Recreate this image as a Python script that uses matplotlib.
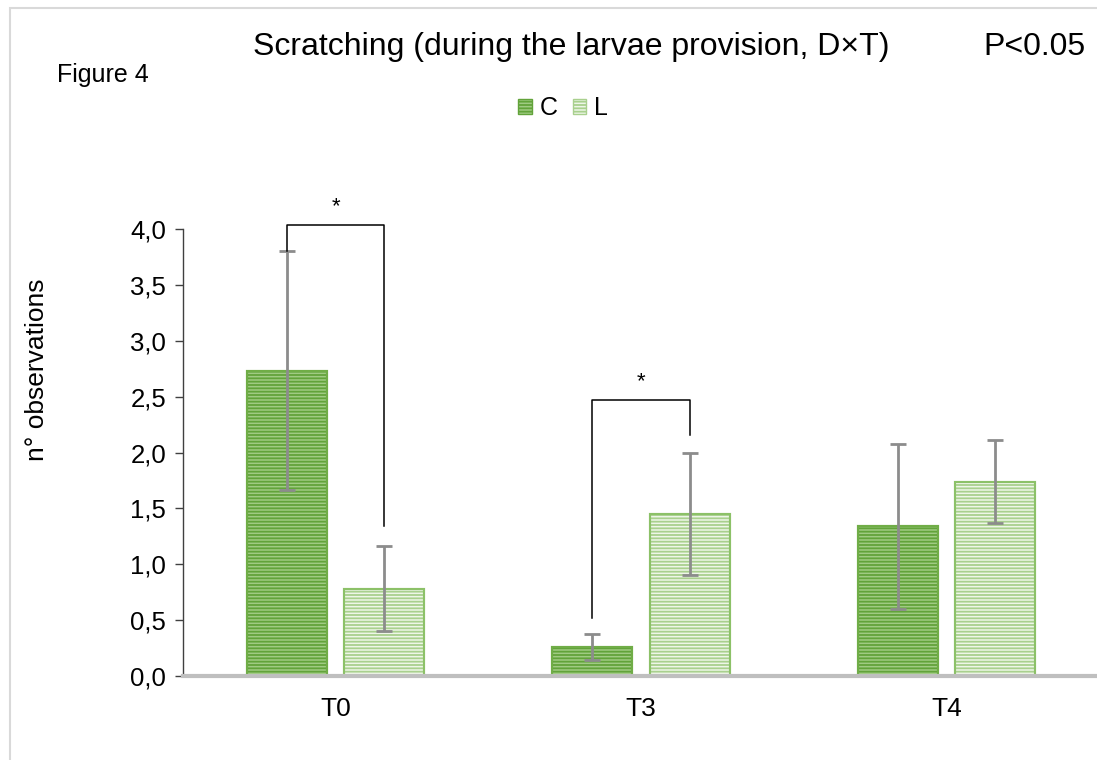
import matplotlib
matplotlib.use("Agg")
import matplotlib.pyplot as plt
from matplotlib.patches import Rectangle, Patch
import numpy as np

plt.rcParams['font.family'] = ['Liberation Sans', 'DejaVu Sans']
plt.rcParams['hatch.linewidth'] = 1.3

categories = ["T0", "T3", "T4"]
series = ["C", "L"]
c_values = [2.73, 0.26, 1.34]
c_errors = [1.07, 0.12, 0.74]
l_values = [0.78, 1.45, 1.74]
l_errors = [0.38, 0.55, 0.37]
y_ticks = [0.0, 0.5, 1.0, 1.5, 2.0, 2.5, 3.0, 3.5, 4.0]
# significance brackets: (category index, left leg bottom, right leg bottom, top)
brackets = [(0, 3.80, 1.34, 4.035), (1, 0.52, 2.16, 2.47)]

fig = plt.figure(figsize=(10.97, 7.60), dpi=100)
ax = fig.add_axes([183/1097, 84/760, 916/1097, 447/760])

x = np.arange(len(categories))
off = 0.159
w = 0.262
c_face, c_hatch = '#a0cb83', '#62a33a'
l_face, l_hatch = '#eef6e8', '#a9d08e'

ax.bar(x - off, c_values, w, facecolor=c_face, edgecolor=c_hatch, hatch='-----', linewidth=1.5, zorder=2)
ax.bar(x + off, l_values, w, facecolor=l_face, edgecolor=l_hatch, hatch='-----', linewidth=1.5, zorder=2)
# redraw edges
ax.bar(x - off, c_values, w, facecolor='none', edgecolor='#70ad47', linewidth=1.5, zorder=3)
ax.bar(x + off, l_values, w, facecolor='none', edgecolor='#8cc168', linewidth=1.5, zorder=3)

ax.errorbar(x - off, c_values, yerr=c_errors, fmt='none', ecolor='#8c8c8c', elinewidth=2, capsize=6, capthick=2, zorder=4)
ax.errorbar(x + off, l_values, yerr=l_errors, fmt='none', ecolor='#8c8c8c', elinewidth=2, capsize=6, capthick=2, zorder=4)

for ci, lb, rb, top in brackets:
    xl, xr = ci - off, ci + off
    ax.plot([xl, xl, xr, xr], [lb, top, top, rb], color='black', lw=1.1, zorder=5, clip_on=False)
    ax.text(ci, top + 0.07, '*', ha='center', va='bottom', fontsize=16)

ax.set_xlim(-0.5, 2.5)
ax.set_ylim(0, 4.0)
ax.set_yticks(y_ticks)
ax.set_yticklabels([f"{v:.1f}".replace('.', ',') for v in y_ticks], fontsize=18.5)
ax.set_xticks(x)
ax.set_xticklabels(categories, fontsize=19)
ax.tick_params(axis='x', length=0, pad=15)
ax.tick_params(axis='y', length=6, width=1, color='#404040', pad=6)
for s in ['top', 'right']:
    ax.spines[s].set_visible(False)
ax.spines['left'].set_color('#404040')
ax.spines['left'].set_linewidth(1)
ax.spines['bottom'].set_color('#bfbfbf')
ax.spines['bottom'].set_linewidth(3)
ax.spines['bottom'].set_zorder(6)

ax.set_ylabel("n° observations", fontsize=19, va='center')
ax.yaxis.set_label_coords((37 - 183) / 916, (676 - 370) / 447)

fig.text(571/1097, 1 - 47/760, "Scratching (during the larvae provision, D×T)", fontsize=23, ha='center', va='center')
fig.text(1034/1097, 1 - 47/760, "P<0.05", fontsize=23, ha='center', va='center')
fig.text(103/1097, 1 - 75/760, "Figure 4", fontsize=18, ha='center', va='center')

handles = [Patch(facecolor=c_face, edgecolor=c_hatch, hatch='-----'),
           Patch(facecolor=l_face, edgecolor=l_hatch, hatch='-----')]
fig.legend(handles, series, loc='center', bbox_to_anchor=(563/1097, 1 - 108/760), ncol=2,
           frameon=False, fontsize=18, handlelength=0.55, handleheight=0.55, handletextpad=0.3, columnspacing=0.6)

fig.patches.append(Rectangle((10/1097, -0.1), 1.2, 1 - 8/760 + 0.1, transform=fig.transFigure,
                             facecolor='none', edgecolor='#d9d9d9', linewidth=1.5, zorder=0))

fig.savefig("out.png", dpi=100)
